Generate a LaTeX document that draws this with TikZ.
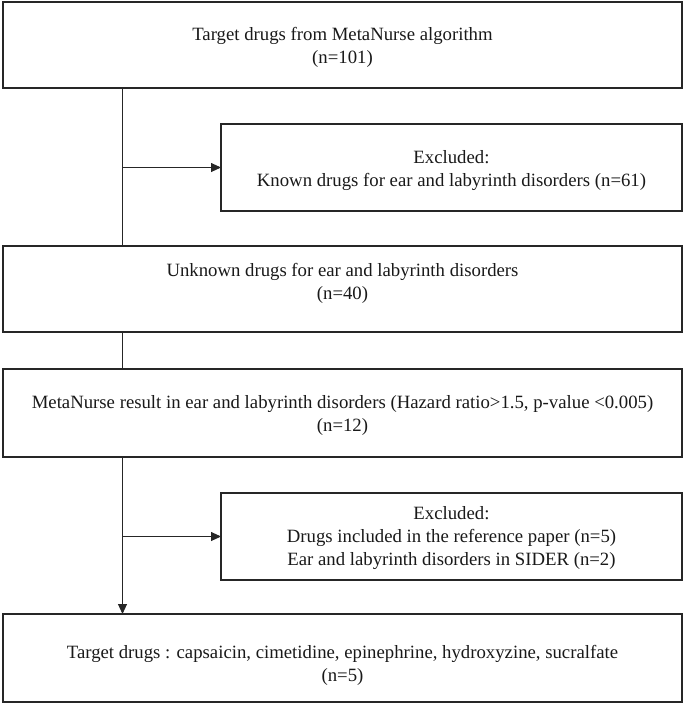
\documentclass[tikz,border=0pt]{standalone}
\usepackage{fontspec}
\setmainfont{Liberation Serif}
\usetikzlibrary{arrows.meta}
\begin{document}
\begin{tikzpicture}[x=1pt,y=-1pt,
  box/.style={draw=black!85, line width=1.5pt, inner sep=0pt, outer sep=0pt},
  wide/.style={box, minimum width=679pt},
  side/.style={box, minimum width=461pt},
  txt/.style={inner sep=0pt, align=center, font=\fontsize{18.75pt}{23pt}\selectfont, text=black!90},
  conn/.style={draw=black!85, line width=0.9pt},
  arr/.style={conn, -{Triangle[length=10pt,width=9pt]}}]
\useasboundingbox (0,0) rectangle (685,705);
\node[wide, minimum height=86pt] (b1) at (342.5,45) {};
\node[side, minimum height=87pt] (b2) at (451.5,167.5) {};
\node[wide, minimum height=86pt] (b3) at (342.5,289) {};
\node[wide, minimum height=88pt] (b4) at (342.5,413) {};
\node[side, minimum height=87pt] (b6) at (451.5,536.5) {};
\node[wide, minimum height=88pt] (b5) at (342.5,658) {};
\node[txt] (t1) at ([yshift=-2.5pt]b1.center) {Target drugs from MetaNurse algorithm\\(n=101)};
\node[txt] (t2) at ([yshift=-3pt]b2.center) {Excluded:\\Known drugs for ear and labyrinth disorders (n=61)};
\node[txt] (t3) at ([yshift=5.5pt]b3.center) {Unknown drugs for ear and labyrinth disorders\\(n=40)};
\node[txt] (t4) at ([yshift=-2pt]b4.center) {MetaNurse result in ear and labyrinth disorders (Hazard ratio>1.5, p-value <0.005)\\(n=12)};
\node[txt] (t6) at ([yshift=-2pt]b6.center) {Excluded:\\Drugs included in the reference paper (n=5)\\Ear and labyrinth disorders in SIDER (n=2)};
\node[txt] (t5) at ([yshift=-7.5pt]b5.center) {Target drugs : capsaicin, cimetidine, epinephrine, hydroxyzine, sucralfate\\(n=5)};
\coordinate (sp) at (122.5,0);
\draw[conn] (b1.south -| sp) -- (b3.north -| sp);
\draw[arr] (sp |- b2.west) -- (b2.west);
\draw[conn] (b3.south -| sp) -- (b4.north -| sp);
\draw[arr] (b4.south -| sp) -- (b5.north -| sp);
\draw[arr] (sp |- b6.west) -- (b6.west);
\end{tikzpicture}
\end{document}
